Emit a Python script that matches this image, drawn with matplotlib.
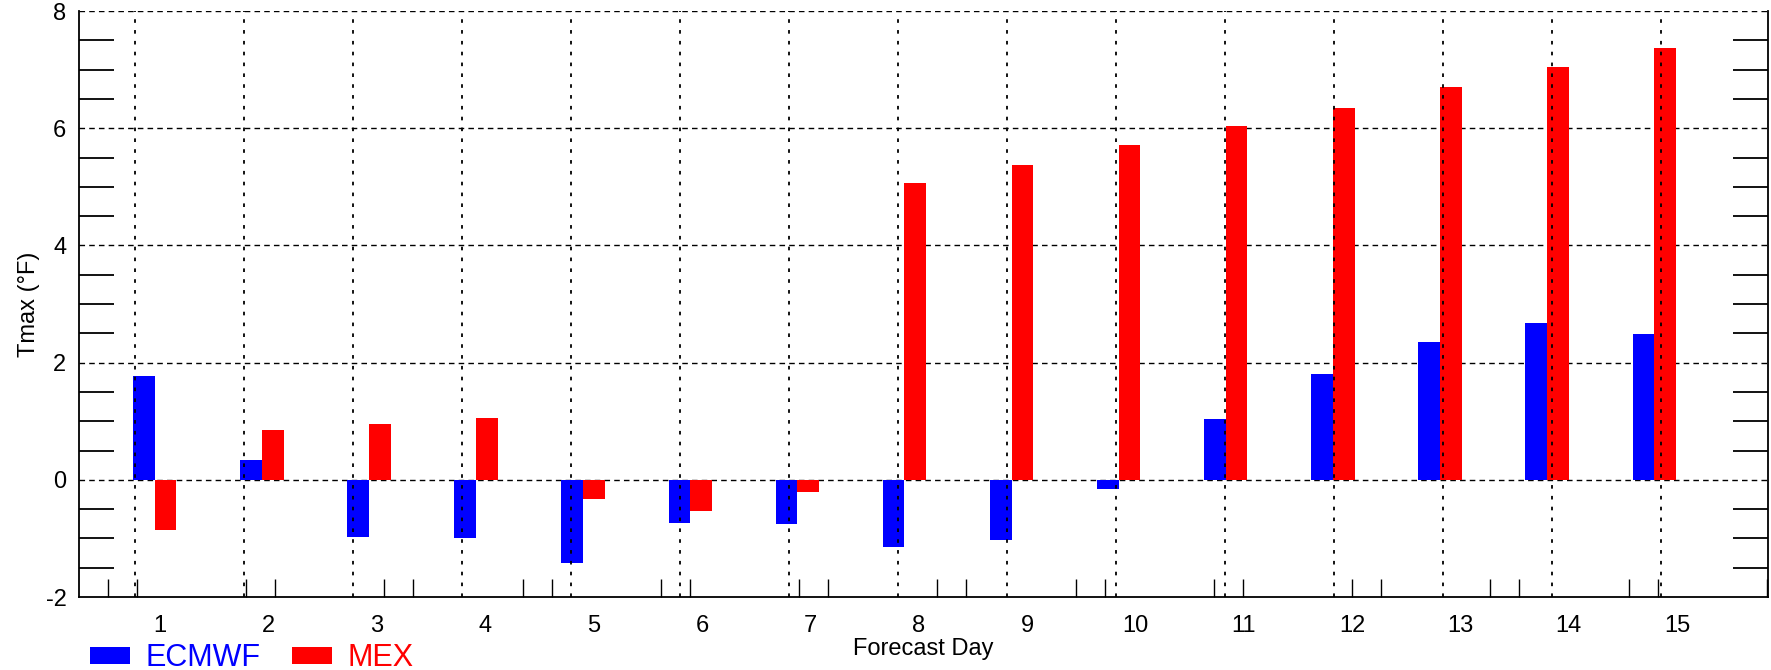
import matplotlib
matplotlib.use("Agg")
import matplotlib.pyplot as plt
import numpy as np

days = list(range(1, 16))
ecmwf = [1.77, 0.33, -0.98, -1.00, -1.42, -0.73, -0.75, -1.15, -1.02, -0.15, 1.04, 1.81, 2.35, 2.67, 2.48]
mex = [-0.85, 0.85, 0.96, 1.06, -0.33, -0.54, -0.21, 5.06, 5.38, 5.71, 6.04, 6.35, 6.71, 7.04, 7.37]
series_names = ["ECMWF", "MEX"]
series_colors = ["blue", "red"]
ylabel = "Tmax (°F)"
xlabel = "Forecast Day"

plt.rcParams['font.family'] = ['Liberation Sans', 'DejaVu Sans']
plt.rcParams['axes.unicode_minus'] = False

fig = plt.figure(figsize=(17.71, 6.70), dpi=100)
ax = fig.add_axes([79/1771, 1-597/670, (1768-79)/1771, (597-11)/670])

d = np.array(days, dtype=float)
centers = 0.949 + 0.9886 * (d - 1)
vlines = 0.77 + 1.0057 * (d - 1)
w = 0.2

# horizontal dashed grid (behind bars)
for yv in [0, 2, 4, 6, 8]:
    ax.axhline(yv, color='black', lw=1.0, ls=(0, (4, 3)), zorder=1)

b1 = ax.bar(centers - w/2, ecmwf, width=w, color=series_colors[0], label=series_names[0], zorder=2)
b2 = ax.bar(centers + w/2, mex, width=w, color=series_colors[1], label=series_names[1], zorder=2)

# vertical dotted lines over bars
for xv in vlines:
    ax.axvline(xv, color='black', lw=1.3, ls=(0, (2, 4)), zorder=3)

ax.set_xlim(0.25, 15.84)
ax.set_ylim(-2, 8)

ax.spines['top'].set_visible(False)
for s in ['left', 'right', 'bottom']:
    ax.spines[s].set_linewidth(1.3)
    ax.spines[s].set_zorder(4)

ax.set_xticks(days)
ax.set_xticklabels([str(x) for x in days])
k = np.arange(0, 13)
mt = np.concatenate([0.517 + 1.276 * k, 0.517 + 1.276 * k + 0.268])
mt = mt[(mt > 0.25) & (mt < 15.84)]
ax.set_xticks(mt, minor=True)
ax.tick_params(axis='x', which='major', length=0, pad=13, labelsize=17)
ax.tick_params(axis='x', which='minor', length=13, direction='in', width=1.0, top=False)

ax.set_yticks([-2, 0, 2, 4, 6, 8])
ax.set_yticks([yv for yv in np.arange(-1.5, 8, 0.5) if yv % 2 != 0], minor=True)
ax.tick_params(axis='y', which='major', length=0, pad=9, labelsize=17)
ax.tick_params(axis='y', which='minor', length=25, direction='in', width=1.3, left=True, right=True)

ax.set_xlabel(xlabel, fontsize=17, labelpad=1)
ax.set_ylabel(ylabel, fontsize=17, labelpad=4)

leg = ax.legend(handles=[b1, b2], loc='lower left', bbox_to_anchor=(90/1771, -0.005),
                bbox_transform=fig.transFigure, ncol=2, frameon=False, fontsize=22,
                handlelength=1.3, handleheight=0.5, handletextpad=0.5, columnspacing=1.05,
                borderpad=0, borderaxespad=0, labelcolor=series_colors)

fig.savefig("out.png", dpi=100)
